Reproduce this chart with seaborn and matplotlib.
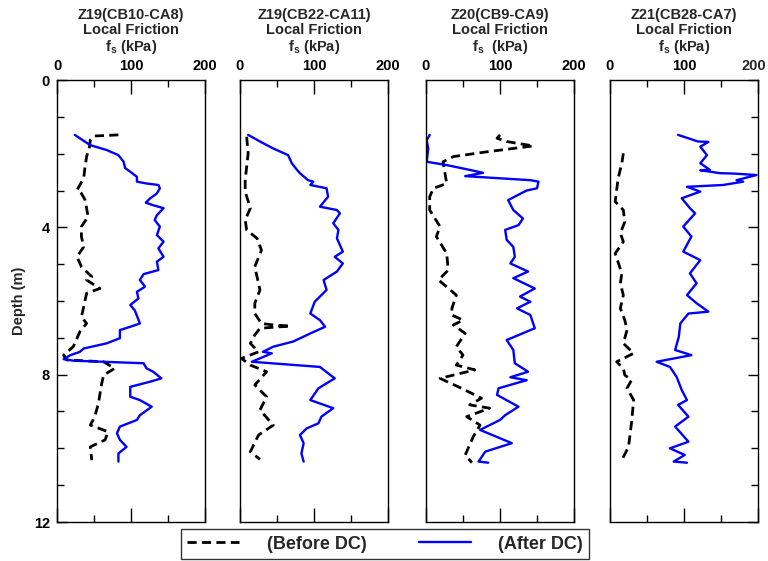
import numpy as np
import pandas as pd
import matplotlib
matplotlib.use("Agg")
import matplotlib.pyplot as plt
import seaborn as sns
from matplotlib.lines import Line2D
from matplotlib.ticker import MultipleLocator, FuncFormatter

sns.set_style("white")
plt.rcParams["font.family"] = ["Liberation Sans", "DejaVu Sans"]
plt.rcParams["font.weight"] = "bold"
plt.rcParams["mathtext.fontset"] = "custom"
plt.rcParams["mathtext.rm"] = "Liberation Sans:bold"
plt.rcParams["mathtext.it"] = "Liberation Sans:bold"
plt.rcParams["mathtext.bf"] = "Liberation Sans:bold"
plt.rcParams["mathtext.default"] = "rm"

titles = ["Z19(CB10-CA8)", "Z19(CB22-CA11)", "Z20(CB9-CA9)", "Z21(CB28-CA7)"]
subtitle = "Local Friction"
units = ["f$_s$ (kPa)", "f$_s$ (kPa)", "f$_s$  (kPa)", "f$_s$ (kPa)"]
x_ticks = [0, 100, 200]
y_ticks = [0, 4, 8, 12]
legend_labels = ["(Before DC)", "(After DC)"]

# ---- Panel 1: Z19(CB10-CA8)
p1_after_depth = [1.49, 1.77, 1.90, 2.04, 2.22, 2.39, 2.49, 2.63, 2.76, 2.81, 2.85, 2.94, 3.08, 3.21, 3.33, 3.40,
                  3.48, 3.67, 3.80, 3.98, 4.21, 4.39, 4.57, 4.80, 4.93, 5.16, 5.27, 5.43, 5.61, 5.75, 5.93, 6.11,
                  6.25, 6.40, 6.61, 6.70, 6.79, 7.01, 7.15, 7.29, 7.38, 7.47, 7.58, 7.62, 7.69, 7.83, 7.92, 8.10,
                  8.19, 8.33, 8.60, 8.69, 8.87, 9.10, 9.23, 9.41, 9.59, 9.77, 9.96, 10.14, 10.36]
p1_after_fs = [24, 45, 67, 83, 90, 92, 99, 108, 108, 121, 137, 139, 135, 126, 120, 130,
               144, 135, 132, 139, 135, 144, 137, 144, 135, 137, 117, 112, 119, 108, 110, 99,
               105, 108, 112, 99, 85, 85, 67, 36, 31, 18, 9, 22, 117, 121, 130, 141,
               126, 99, 99, 112, 128, 112, 108, 85, 81, 85, 94, 83, 83]
p1_before_depth = [1.49, 1.52, 1.63, 1.81, 2.08, 2.35, 2.67, 2.99, 3.08, 3.26, 3.71, 3.98, 4.25, 4.53, 4.80, 5.07,
                   5.34, 5.43, 5.66, 5.79, 6.16, 6.43, 6.61, 6.83, 7.24, 7.47, 7.60, 7.65, 7.83, 8.01, 8.28, 8.78,
                   9.14, 9.37, 9.55, 9.77, 9.96, 10.32]
p1_before_fs = [83, 51, 45, 44, 40, 38, 36, 27, 33, 38, 42, 33, 33, 36, 27, 33,
                47, 40, 58, 40, 36, 33, 40, 31, 22, 9, 13, 63, 78, 63, 60, 56,
                51, 45, 69, 65, 45, 47]

# ---- Panel 2: Z19(CB22-CA11)
p2_after_depth = [1.49, 1.67, 1.86, 2.04, 2.26, 2.44, 2.53, 2.72, 2.76, 2.85, 2.94, 3.17, 3.44, 3.53, 3.62, 3.89,
                  4.07, 4.30, 4.66, 4.80, 4.98, 5.20, 5.43, 5.70, 6.02, 6.34, 6.52, 6.70, 6.88, 7.10, 7.24, 7.38,
                  7.42, 7.65, 7.79, 8.10, 8.37, 8.69, 8.91, 9.14, 9.32, 9.46, 9.64, 9.86, 10.14, 10.36]
p2_after_fs = [11, 27, 45, 65, 70, 77, 81, 92, 99, 95, 117, 119, 108, 131, 135, 126,
               133, 131, 139, 128, 139, 131, 113, 117, 101, 95, 108, 115, 95, 72, 45, 31,
               43, 16, 108, 128, 106, 95, 126, 110, 106, 90, 81, 86, 83, 86]
p2_before_depth = [1.54, 1.99, 2.72, 3.03, 3.48, 3.80, 4.07, 4.30, 4.62, 5.07, 5.70, 6.06, 6.34, 6.61, 6.65, 6.68,
                   6.74, 6.92, 7.15, 7.38, 7.56, 7.74, 7.92, 8.28, 8.60, 8.96, 9.37, 9.64, 10.09, 10.30]
p2_before_fs = [9, 11, 7, 7, 14, 7, 9, 23, 29, 20, 27, 20, 20, 29, 45, 68,
                27, 20, 14, 25, 2, 14, 36, 20, 36, 27, 45, 25, 14, 27]

# ---- Panel 3: Z20(CB9-CA9)
p3_after_depth = [1.49, 1.63, 1.86, 2.22, 2.31, 2.44, 2.52, 2.61, 2.72, 2.76, 2.94, 3.00, 3.26, 3.53, 3.76, 3.94,
                  4.07, 4.34, 4.53, 4.80, 4.98, 5.20, 5.38, 5.66, 5.88, 6.02, 6.20, 6.38, 6.74, 7.06, 7.33, 7.69,
                  7.92, 8.07, 8.15, 8.37, 8.55, 8.87, 9.10, 9.23, 9.50, 9.86, 10.09, 10.36, 10.39]
p3_after_fs = [5, 1, 3, 1, 28, 59, 77, 53, 141, 152, 150, 136, 111, 118, 131, 125,
               107, 109, 118, 120, 114, 138, 118, 147, 127, 141, 123, 141, 147, 109, 118, 120,
               138, 114, 136, 98, 96, 125, 107, 100, 73, 116, 80, 71, 84]
p3_before_depth = [1.49, 1.58, 1.67, 1.79, 1.95, 2.08, 2.22, 2.81, 2.94, 3.17, 3.53, 3.98, 4.25, 4.71, 5.16, 5.43,
                   5.84, 6.20, 6.38, 6.52, 6.65, 6.88, 7.24, 7.47, 7.74, 7.87, 8.10, 8.37, 8.64, 8.82, 8.91, 9.14,
                   9.37, 9.68, 10.18, 10.39]
p3_before_fs = [100, 96, 109, 145, 82, 37, 23, 28, 10, 5, 5, 19, 14, 28, 30, 17,
                41, 35, 35, 50, 37, 53, 41, 50, 41, 66, 19, 48, 75, 59, 86, 55,
                73, 64, 53, 62]

# ---- Panel 4: Z21(CB28-CA7)
p4_after_depth = [1.49, 1.67, 1.68, 1.81, 2.04, 2.26, 2.44, 2.45, 2.53, 2.54, 2.58, 2.72, 2.76, 2.85, 2.90, 3.03,
                  3.21, 3.48, 3.62, 3.98, 4.25, 4.66, 4.89, 5.25, 5.52, 5.84, 6.06, 6.29, 6.34, 6.61, 6.97, 7.33,
                  7.47, 7.65, 7.79, 8.06, 8.42, 8.69, 8.82, 9.14, 9.41, 9.82, 10.00, 10.18, 10.36, 10.39]
p4_after_fs = [92, 119, 133, 122, 131, 122, 135, 122, 149, 167, 198, 171, 180, 153, 104, 122,
               97, 108, 115, 99, 110, 99, 122, 108, 117, 104, 117, 133, 106, 95, 93, 88,
               110, 63, 81, 90, 97, 104, 92, 106, 88, 106, 81, 101, 86, 104]
p4_before_depth = [1.99, 2.26, 2.67, 3.30, 3.53, 3.85, 4.16, 4.39, 4.71, 5.25, 5.52, 5.84, 6.20, 6.52, 6.79, 7.15,
                   7.42, 7.65, 7.83, 8.01, 8.15, 8.37, 8.69, 9.32, 9.96, 10.32]
p4_before_fs = [18, 16, 11, 7, 18, 20, 14, 18, 7, 16, 14, 18, 14, 20, 23, 18,
                32, 9, 18, 20, 29, 23, 32, 29, 25, 16]

after_depth = [p1_after_depth, p2_after_depth, p3_after_depth, p4_after_depth]
after_fs = [p1_after_fs, p2_after_fs, p3_after_fs, p4_after_fs]
before_depth = [p1_before_depth, p2_before_depth, p3_before_depth, p4_before_depth]
before_fs = [p1_before_fs, p2_before_fs, p3_before_fs, p4_before_fs]

W, H = 768, 561
fig = plt.figure(figsize=(W / 100, H / 100), dpi=100)
lefts_px = [57, 240, 426, 610]
top_px, bot_px, width_px = 80, 522, 148
DASH = (0, (3.3, 1.9))
axes = []

for i, lp in enumerate(lefts_px):
    ax = fig.add_axes([lp / W, 1 - bot_px / H, width_px / W, (bot_px - top_px) / H])
    axes.append(ax)
    dfb = pd.DataFrame({"Depth": before_depth[i], "fs": before_fs[i]})
    dfa = pd.DataFrame({"Depth": after_depth[i], "fs": after_fs[i]})
    sns.lineplot(data=dfb, x="fs", y="Depth", sort=False, estimator=None,
                 color="black", lw=2.0, linestyle=DASH, ax=ax)
    sns.lineplot(data=dfa, x="fs", y="Depth", sort=False, estimator=None,
                 color="#0000FF", lw=1.7, ax=ax)
    ax.set_xlim(x_ticks[0], x_ticks[-1])
    ax.set_ylim(y_ticks[-1], y_ticks[0])
    ax.set_xlabel("")
    ax.set_ylabel("")
    for s in ax.spines.values():
        s.set_color("black")
        s.set_linewidth(1.0)
    ax.xaxis.set_major_locator(MultipleLocator(100))
    ax.xaxis.set_minor_locator(MultipleLocator(50))
    ax.yaxis.set_major_locator(MultipleLocator(4))
    ax.yaxis.set_minor_locator(MultipleLocator(1))
    ax.tick_params(axis="x", which="both", direction="in", top=True, bottom=True,
                   labeltop=True, labelbottom=False, colors="black", width=1)
    ax.tick_params(axis="x", which="major", length=10, pad=5, labelsize=10.5)
    ax.tick_params(axis="x", which="minor", length=5)
    ax.tick_params(axis="y", which="both", direction="in", width=1, colors="black")
    ax.tick_params(axis="y", which="major", length=7.5, labelsize=10.5, pad=5)
    ax.tick_params(axis="y", which="minor", length=5)
    if i == 0:
        ax.tick_params(axis="y", which="both", left=True, right=False, labelleft=True)
        ax.set_ylabel("Depth (m)", fontsize=10.5, fontweight="bold", labelpad=6)
    elif i == 3:
        ax.tick_params(axis="y", which="both", left=False, right=True, labelleft=False)
        # last "200" is drawn separately so it stays inside the canvas
        ax.xaxis.set_major_formatter(FuncFormatter(lambda v, p: "" if v >= 200 else f"{v:g}"))
    else:
        ax.tick_params(axis="y", which="both", left=False, right=False, labelleft=False)
    ax.text(0.5, 1 + 24 / (bot_px - top_px), f"{titles[i]}\n{subtitle}\n{units[i]}",
            transform=ax.transAxes, ha="center", va="bottom", fontsize=10.5,
            fontweight="bold", linespacing=1.08)

fig.canvas.draw()
ref_lbl = axes[2].xaxis.get_majorticklabels()[-1]
bb = ref_lbl.get_window_extent()
fig.text(766 / W, (bb.y0 + bb.y1) / 2 / fig.bbox.height, "200", ha="right", va="center",
         fontsize=10.5, fontweight="bold")

handles = [Line2D([], [], color="black", lw=2.0, linestyle=DASH),
           Line2D([], [], color="#0000FF", lw=1.7)]
leg = fig.legend(handles, legend_labels, loc="lower center",
                 bbox_to_anchor=(385 / W, 1 - 559 / H), ncol=2, frameon=True,
                 fancybox=False, edgecolor="black", fontsize=13,
                 handlelength=2.9, handletextpad=1.5, columnspacing=2.9,
                 borderpad=0.35, borderaxespad=0)
leg.get_frame().set_linewidth(1.0)
for t in leg.get_texts():
    t.set_fontweight("bold")

fig.savefig("out.png", dpi=100)
